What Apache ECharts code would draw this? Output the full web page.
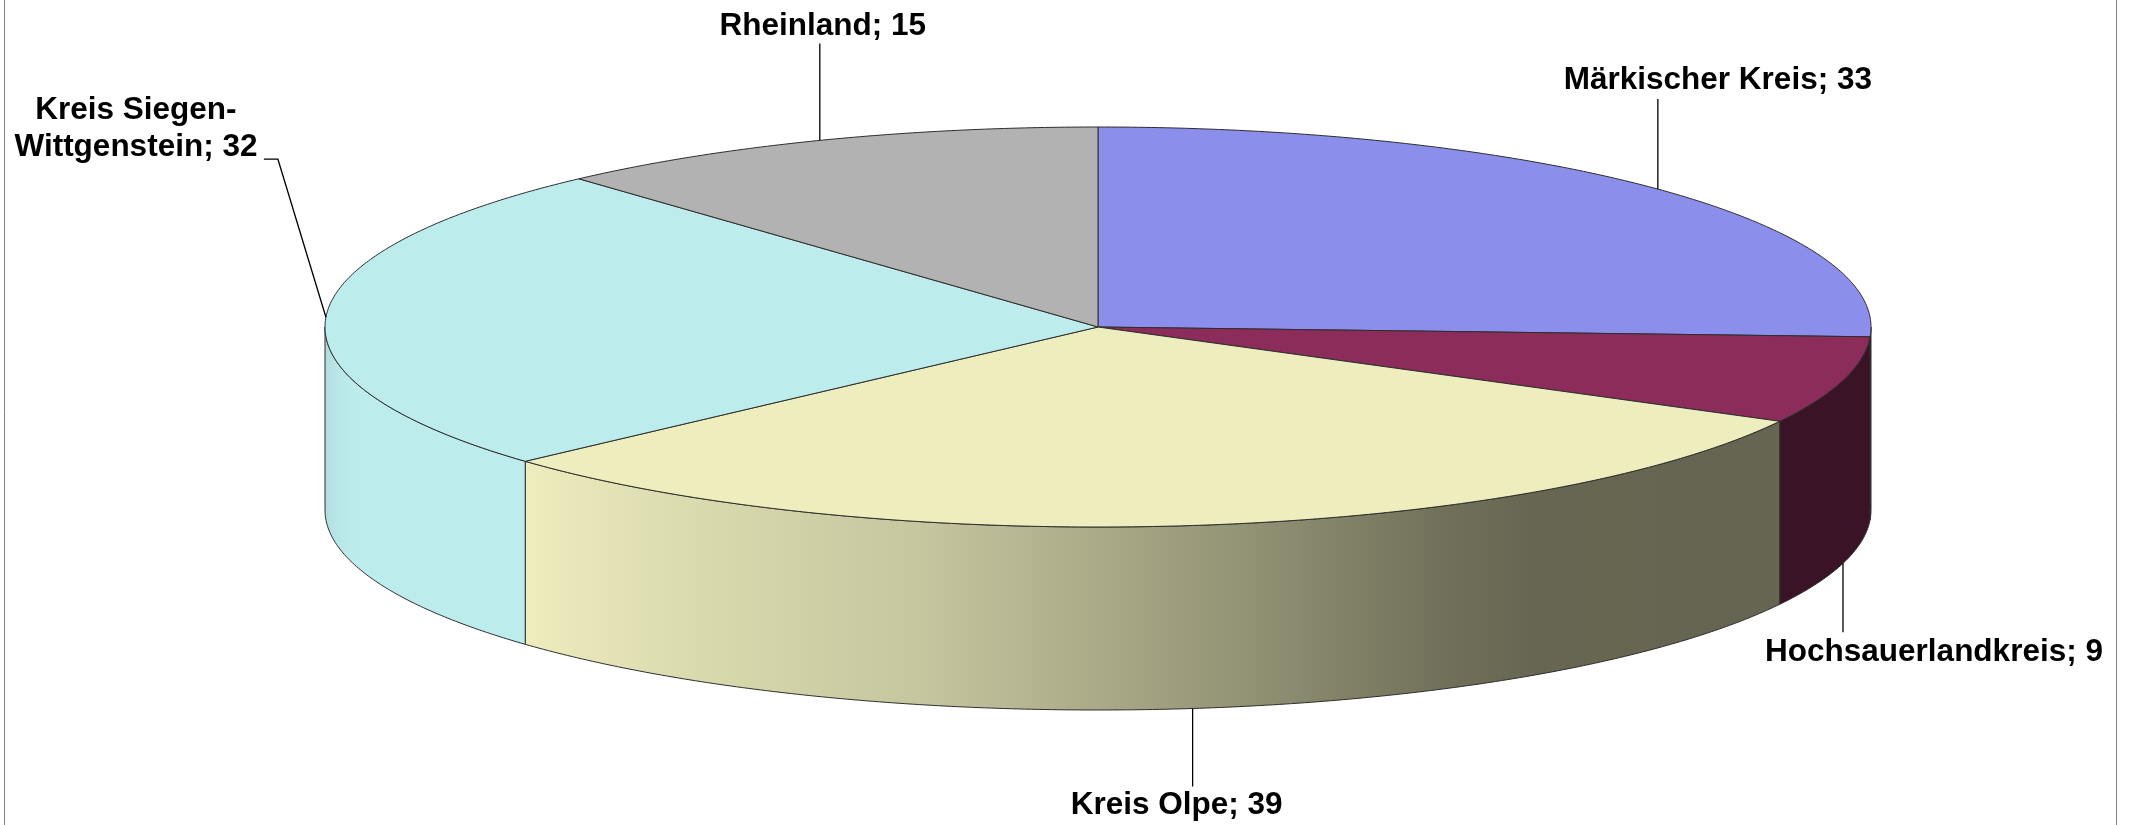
<!DOCTYPE html>
<html>
<head>
<meta charset="utf-8">
<script src="https://cdn.jsdelivr.net/npm/echarts@6/dist/echarts.min.js"></script>
<style>
  html, body { margin: 0; padding: 0; background: #fff; }
  #main { width: 2131px; height: 825px; }
</style>
</head>
<body>
<div id="main"></div>
<script>
// Regionen und Anzahl
const names = ['Märkischer Kreis', 'Hochsauerlandkreis', 'Kreis Olpe', 'Kreis Siegen-Wittgenstein', 'Rheinland'];
const values = [33, 9, 39, 32, 15];
const colors = ['#8b8eeb', '#8b2c5a', '#ededbe', '#bdecec', '#b2b2b2'];

// Lage der 3D-Torte (Pixel)
const PIE = { cx: 1098, cy: 327, rx: 773, ry: 200, depth: 183 };

// Helligkeit der Mantelflaeche je Winkel (Grad, im Uhrzeigersinn ab 12 Uhr)
const SHADE = [[90, 0.42], [148, 0.43], [163, 0.56], [178, 0.70], [193, 0.835], [228, 1.0], [255, 1.0], [270, 0.92]];

// Beschriftungen: Knickpunkte der Linie und Textversatz relativ zum Ankerpunkt
const LABELS = [
  { line: [[0, -90]], text: [60, -19] },
  { line: [[0, 69]], text: [91, 20] },
  { line: [[0, 78]], text: [-16, 19] },
  { line: [[-48, -158], [-62, -158]], text: [-128, -30], br: true },
  { line: [[0, -97]], text: [3, -17] }
];

const total = values.reduce((a, b) => a + b, 0);
const starts = [];
let acc = 0;
values.forEach(v => { starts.push(acc / total * 360); acc += v; });

function pt(deg, dy) {
  const r = deg * Math.PI / 180;
  return [PIE.cx + PIE.rx * Math.sin(r), PIE.cy - PIE.ry * Math.cos(r) + (dy || 0)];
}

function arc(a, b, dy) {
  const pts = [];
  const n = Math.max(2, Math.ceil((b - a) / 0.5));
  for (let i = 0; i <= n; i++) pts.push(pt(a + (b - a) * i / n, dy));
  return pts;
}

function shade(deg) {
  if (deg <= SHADE[0][0]) return SHADE[0][1];
  for (let i = 1; i < SHADE.length; i++) {
    if (deg <= SHADE[i][0]) {
      const t = (deg - SHADE[i - 1][0]) / (SHADE[i][0] - SHADE[i - 1][0]);
      return SHADE[i - 1][1] + t * (SHADE[i][1] - SHADE[i - 1][1]);
    }
  }
  return SHADE[SHADE.length - 1][1];
}

function darken(hex, f) {
  const n = parseInt(hex.slice(1), 16);
  const r = Math.round(((n >> 16) & 255) * f);
  const g = Math.round(((n >> 8) & 255) * f);
  const b = Math.round((n & 255) * f);
  return 'rgb(' + r + ',' + g + ',' + b + ')';
}

function renderItem(params, api) {
  const i = params.dataIndex;
  const a = starts[i];
  const b = a + values[i] / total * 360;
  const children = [];

  // sichtbarer Mantel (vordere Haelfte)
  const s1 = Math.max(a, 90), s2 = Math.min(b, 270);
  if (s2 > s1) {
    const pts = arc(s1, s2, 0).concat(arc(s1, s2, PIE.depth).reverse());
    const xmin = pt(s2)[0], xmax = pt(s1)[0];
    const w = Math.max(xmax - xmin, 0.001);
    const stops = [];
    for (let k = 0; k <= 16; k++) {
      const d = s2 - (s2 - s1) * k / 16;
      stops.push({ offset: Math.min(1, Math.max(0, (pt(d)[0] - xmin) / w)), color: darken(colors[i], shade(d)) });
    }
    children.push({
      type: 'polygon',
      shape: { points: pts },
      style: {
        fill: { type: 'linear', x: xmin, y: 0, x2: xmin + w, y2: 0, colorStops: stops, global: true },
        stroke: '#2e2e2e', lineWidth: 1
      },
      z2: 1
    });
  }

  // Deckflaeche
  children.push({
    type: 'polygon',
    shape: { points: [[PIE.cx, PIE.cy]].concat(arc(a, b, 0)) },
    style: { fill: colors[i], stroke: '#2e2e2e', lineWidth: 1 },
    z2: 2
  });

  // Beschriftung mit Fuehrungslinie
  const mid = (a + b) / 2;
  const anchor = (mid > 90 && mid < 270) ? pt(mid, PIE.depth) : pt(mid, 0);
  const lay = LABELS[i];
  const linePts = [anchor].concat(lay.line.map(o => [anchor[0] + o[0], anchor[1] + o[1]]));
  const end = linePts[linePts.length - 1];
  children.push({
    type: 'polyline',
    shape: { points: linePts },
    style: { stroke: '#000', lineWidth: 1.3, fill: null },
    z2: 3
  });
  const name = lay.br ? names[i].replace('-', '-\n') : names[i];
  children.push({
    type: 'text',
    x: end[0] + lay.text[0],
    y: end[1] + lay.text[1],
    style: {
      text: name + '; ' + api.value(0),
      fill: '#000',
      fontSize: 31.5,
      fontWeight: 'bold',
      fontFamily: '"Liberation Sans", Arial, sans-serif',
      align: 'center',
      verticalAlign: 'middle',
      lineHeight: 37
    },
    z2: 4
  });

  return { type: 'group', children: children };
}

const chart = echarts.init(document.getElementById('main'));
chart.setOption({
  animation: false,
  backgroundColor: '#fff',
  graphic: [{
    type: 'rect',
    shape: { x: 4.5, y: -10, width: 2112, height: 850 },
    style: { fill: null, stroke: '#7f7f7f', lineWidth: 1 },
    z: -1
  }],
  series: [{
    type: 'custom',
    coordinateSystem: 'none',
    renderItem: renderItem,
    data: values
  }]
});
</script>
</body>
</html>
